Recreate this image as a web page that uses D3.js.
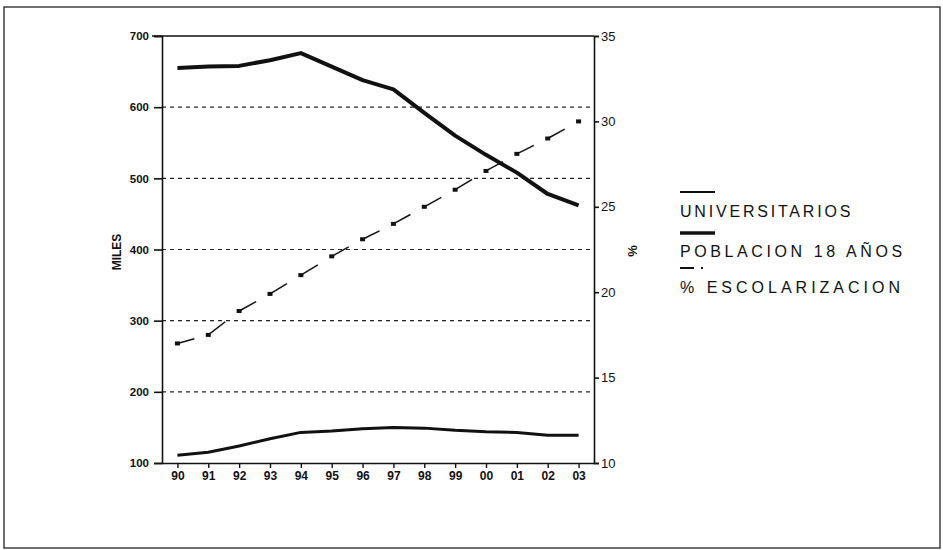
<!DOCTYPE html>
<html>
<head>
<meta charset="utf-8">
<script src="https://cdn.jsdelivr.net/npm/d3@7"></script>
<style>
  body { margin: 0; background: #fff; }
  text { font-family: "Liberation Sans", Arial, sans-serif; fill: #111; }
  .tick text { font-weight: bold; font-size: 11.5px; }
</style>
</head>
<body>
<svg id="chart" width="943" height="550"></svg>
<script>
// data
const years = ["90","91","92","93","94","95","96","97","98","99","00","01","02","03"];
const universitarios = [111, 115, 124, 134, 143, 145, 148, 150, 149, 146, 144, 143, 139, 139];
const poblacion18 = [655, 657, 658, 666, 676, 657, 638, 625, 592, 560, 533, 508, 478, 462];
const escolarizacion = [17.0, 17.5, 18.9, 19.9, 21.0, 22.1, 23.1, 24.0, 25.0, 26.0, 27.1, 28.1, 29.0, 30.0];
const leftTicks = [100, 200, 300, 400, 500, 600, 700];
const rightTicks = [10, 15, 20, 25, 30, 35];
const gridTicks = [200, 300, 400, 500, 600];

// plot box
const plotLeft = 162, plotRight = 594, plotTop = 36, plotBottom = 463;

let svg = d3.select("#chart");

// outer frame
svg.append("rect")
    .attr("x", 4).attr("y", 7)
    .attr("width", 936).attr("height", 541)
    .attr("fill", "none")
    .attr("stroke", "#222")
    .attr("stroke-width", 1.3);

// scales
const x = d3.scalePoint()
    .domain(years)
    .range([plotLeft, plotRight])
    .padding(0.5);
const yLeft = d3.scaleLinear().domain([100, 700]).range([plotBottom, plotTop]);
const yRight = d3.scaleLinear().domain([10, 35]).range([plotBottom, plotTop]);

// dashed grid lines
svg.selectAll("line.grid")
    .data(gridTicks)
    .enter()
        .append("line")
        .attr("class", "grid")
        .attr("x1", plotLeft).attr("x2", plotRight)
        .attr("y1", d => yLeft(d)).attr("y2", d => yLeft(d))
        .attr("stroke", "#222")
        .attr("stroke-width", 1.1)
        .attr("stroke-dasharray", "4,4");

// top border of the plot
svg.append("line")
    .attr("x1", plotLeft - 10).attr("x2", plotRight)
    .attr("y1", plotTop).attr("y2", plotTop)
    .attr("stroke", "#111").attr("stroke-width", 1.5);

// axes
svg.append("g")
    .attr("transform", "translate(" + plotLeft + ",0)")
    .call(d3.axisLeft(yLeft).tickValues(leftTicks).tickSize(8).tickPadding(5))
    .call(g => g.selectAll("line, path").attr("stroke", "#111").attr("stroke-width", 1.6));

svg.append("g")
    .attr("transform", "translate(" + plotRight + ",0)")
    .call(d3.axisRight(yRight).tickValues(rightTicks).tickSize(5).tickPadding(2))
    .call(g => g.selectAll("line, path").attr("stroke", "#111").attr("stroke-width", 1.6))
    .call(g => g.selectAll("text").style("font-weight", "normal").style("font-size", "13px"));

svg.append("g")
    .attr("transform", "translate(0," + plotBottom + ")")
    .call(d3.axisBottom(x).tickSize(5).tickPadding(3).tickSizeOuter(0))
    .call(g => g.selectAll("line, path").attr("stroke", "#111").attr("stroke-width", 1.4))
    .call(g => g.selectAll("text").style("font-size", "12px"));

// axis titles
svg.append("text")
    .attr("transform", "translate(121,252) rotate(-90)")
    .attr("text-anchor", "middle")
    .style("font-weight", "bold")
    .style("font-size", "12px")
    .text("MILES");

svg.append("text")
    .attr("transform", "translate(637,251) rotate(-90)")
    .attr("text-anchor", "middle")
    .style("font-weight", "bold")
    .style("font-size", "13px")
    .text("%");

// lines
const lineLeft = d3.line()
    .x((d, i) => x(years[i]))
    .y(d => yLeft(d));

svg.append("path")
    .datum(universitarios)
    .attr("d", lineLeft)
    .attr("fill", "none")
    .attr("stroke", "#111")
    .attr("stroke-width", 3)
    .attr("stroke-linejoin", "round");

svg.append("path")
    .datum(poblacion18)
    .attr("d", lineLeft)
    .attr("fill", "none")
    .attr("stroke", "#111")
    .attr("stroke-width", 4)
    .attr("stroke-linejoin", "round");

// % escolarizacion: a dash from each point toward the next, plus a marker
const segs = escolarizacion.slice(0, -1).map((v, i) => ({a: v, b: escolarizacion[i + 1], i: i}));
svg.selectAll("line.esc")
    .data(segs)
    .enter()
        .append("line")
        .attr("class", "esc")
        .attr("x1", d => x(years[d.i]))
        .attr("y1", d => yRight(d.a))
        .attr("x2", d => x(years[d.i]) + 0.55 * (x(years[d.i + 1]) - x(years[d.i])))
        .attr("y2", d => yRight(d.a) + 0.55 * (yRight(d.b) - yRight(d.a)))
        .attr("stroke", "#111")
        .attr("stroke-width", 1.5);

svg.selectAll("rect.esc")
    .data(escolarizacion)
    .enter()
        .append("rect")
        .attr("class", "esc")
        .attr("x", (d, i) => x(years[i]) - 2.5)
        .attr("y", d => yRight(d) - 2)
        .attr("width", 5)
        .attr("height", 4)
        .attr("fill", "#111");

// legend
const legend = svg.append("g").attr("transform", "translate(680,0)");
const legendFont = "16px";
legend.append("line")
    .attr("x1", 0).attr("x2", 35).attr("y1", 192).attr("y2", 192)
    .attr("stroke", "#111").attr("stroke-width", 2);
legend.append("text").attr("x", 0).attr("y", 217)
    .style("font-size", legendFont).style("letter-spacing", "2.8px").text("UNIVERSITARIOS");
legend.append("line")
    .attr("x1", 0).attr("x2", 35).attr("y1", 233).attr("y2", 233)
    .attr("stroke", "#111").attr("stroke-width", 3.5);
legend.append("text").attr("x", 0).attr("y", 257)
    .style("font-size", legendFont).style("letter-spacing", "3.6px").text("POBLACION 18 AÑOS");
legend.append("line")
    .attr("x1", 0).attr("x2", 14).attr("y1", 268).attr("y2", 268)
    .attr("stroke", "#111").attr("stroke-width", 2);
legend.append("rect")
    .attr("x", 21).attr("y", 267).attr("width", 2).attr("height", 2)
    .attr("fill", "#111");
legend.append("text").attr("x", 0).attr("y", 293)
    .style("font-size", legendFont).style("letter-spacing", "4px").text("% ESCOLARIZACION");
</script>
</body>
</html>
